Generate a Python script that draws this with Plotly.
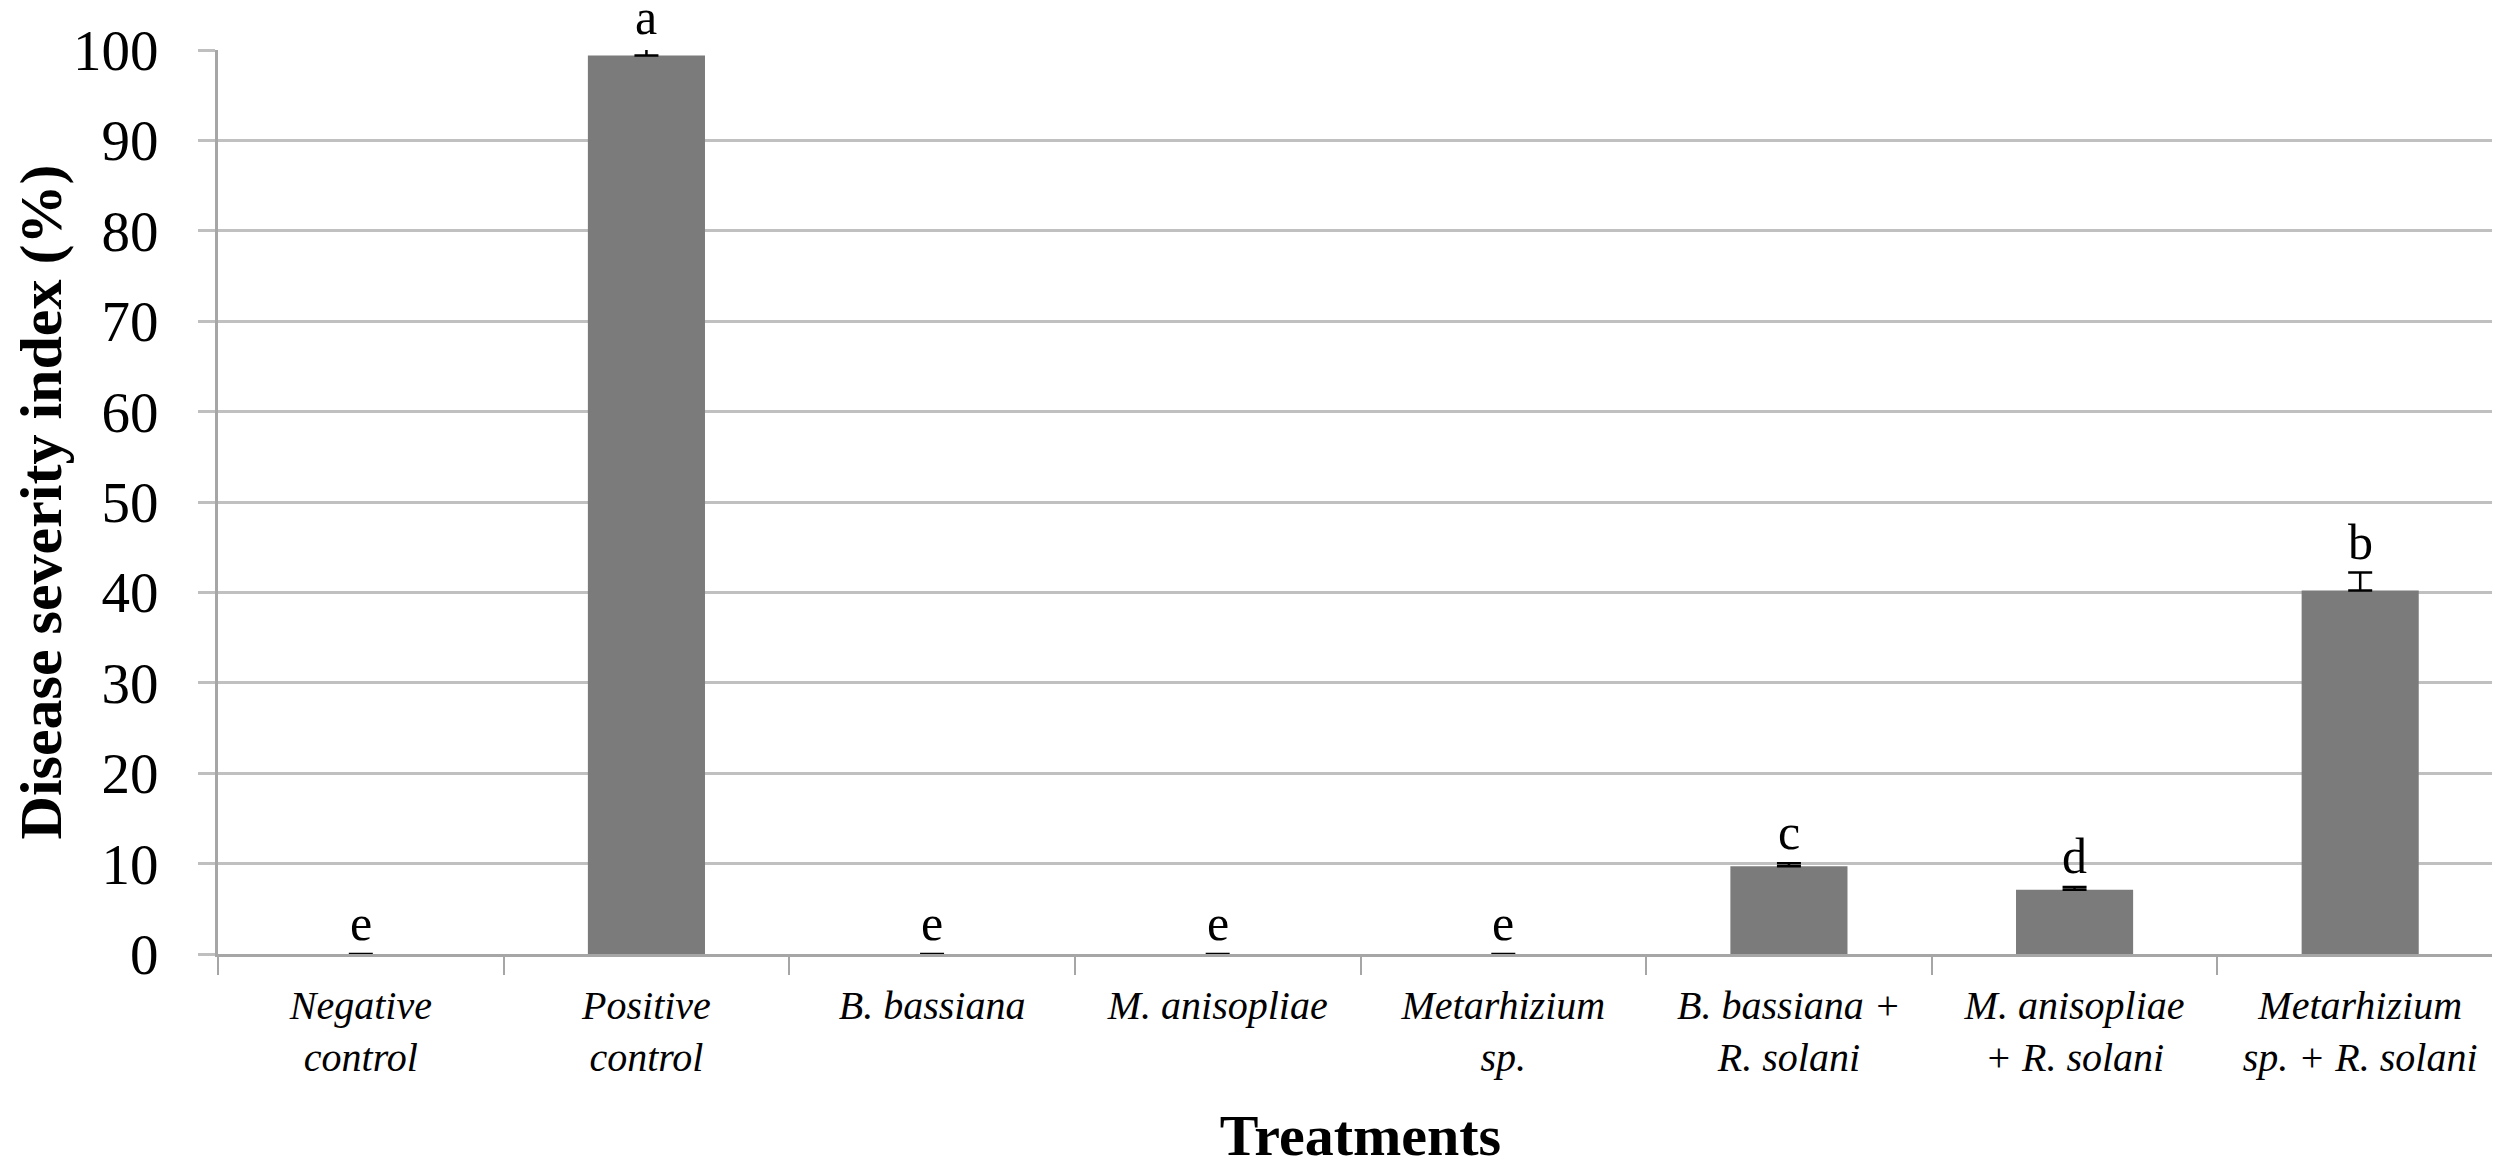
import plotly.graph_objects as go

categories = ["<i>Negative<br>control</i>", "<i>Positive<br>control</i>", "<i>B. bassiana</i>",
              "<i>M. anisopliae</i>", "<i>Metarhizium<br>sp.</i>", "<i>B. bassiana +<br>R. solani</i>",
              "<i>M. anisopliae<br>+ R. solani</i>", "<i>Metarhizium<br>sp. + R. solani</i>"]
severity = [0, 99.4, 0, 0, 0, 9.7, 7.1, 40.2]
errors = [None, 0.8, None, None, None, 0.35, 0.3, 2.0]
letters = ["e", "a", "e", "e", "e", "c", "d", "b"]
y_ticks = [0, 10, 20, 30, 40, 50, 60, 70, 80, 90, 100]

FONT = "Liberation Serif"
Y_MAX = 100

fig = go.Figure()
fig.add_trace(go.Bar(
    x=categories, y=severity,
    marker=dict(color="#7b7b7b", line=dict(width=0)),
    error_y=dict(type="data", symmetric=False, array=errors,
                 arrayminus=[0 if e is not None else None for e in errors],
                 color="black", thickness=2.5, width=12),
    width=0.41,
))

for cat, v, e, lab in zip(categories, severity, errors, letters):
    top = v + (e or 0)
    # annotations anchored outside the axis range are hidden, so clamp and shift in pixels
    anchor = min(top, Y_MAX)
    fig.add_annotation(x=cat, y=anchor, text=lab, showarrow=False, yanchor="bottom",
                       yshift=1 + (top - anchor) * 9,
                       font=dict(family=FONT, size=50, color="black"))

fig.update_layout(
    width=2500, height=1164,
    margin=dict(l=210, r=5, t=42, b=218),
    plot_bgcolor="white", paper_bgcolor="white",
    showlegend=False,
    font=dict(family=FONT, color="black"),
    xaxis=dict(
        showline=True, linecolor="#a6a6a6", linewidth=3,
        ticks="outside", tickson="boundaries", ticklen=18, tickwidth=2, tickcolor="#a6a6a6",
        ticklabelstandoff=14,
        tickfont=dict(family=FONT, size=40, color="black"),
        title=dict(text="<b>Treatments</b>", font=dict(family=FONT, size=58), standoff=36),
        showgrid=False,
    ),
    yaxis=dict(
        range=[0, Y_MAX], tickvals=y_ticks,
        showline=True, linecolor="#a6a6a6", linewidth=3,
        ticks="outside", ticklen=17, tickwidth=2.5, tickcolor="#bfbfbf",
        ticklabelstandoff=28,
        showgrid=True, gridcolor="#c0c0c0", gridwidth=2.5,
        tickfont=dict(family=FONT, size=57, color="black"),
        title=dict(text="<b>Disease severity index (%)</b>", font=dict(family=FONT, size=60), standoff=8),
        zeroline=False,
    ),
)

fig.write_html("out.html")
